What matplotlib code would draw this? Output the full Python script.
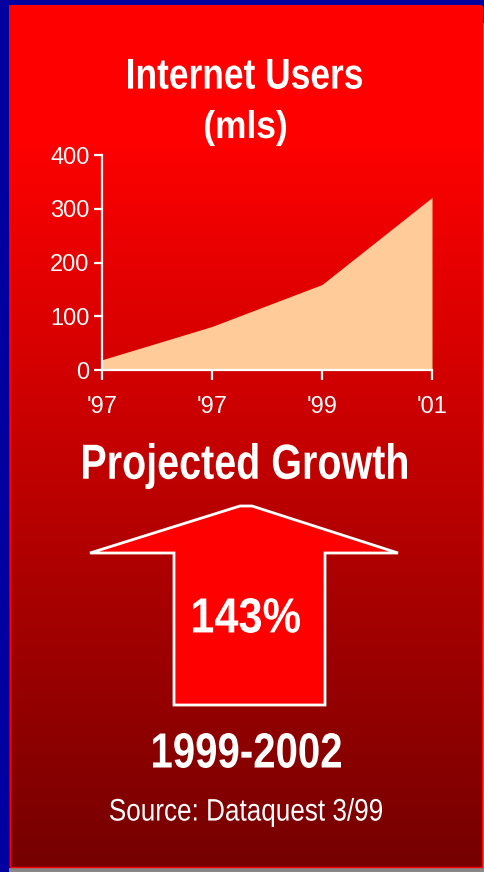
import matplotlib
matplotlib.use('Agg')
import matplotlib.pyplot as plt
import matplotlib.patches as mpatches
from matplotlib.textpath import TextPath
from matplotlib.font_manager import FontProperties
from matplotlib.transforms import Affine2D
import numpy as np

# data
years = ["'97", "'97", "'99", "'01"]
users = [19, 81, 159, 321]
yticks = [0, 100, 200, 300, 400]

REG = ['Liberation Sans', 'DejaVu Sans']

W, H = 485, 872
fig = plt.figure(figsize=(W / 100, H / 100), dpi=100)

# background in pixel coords
bg = fig.add_axes([0, 0, 1, 1])
bg.set_xlim(0, W); bg.set_ylim(H, 0)
bg.axis('off')
bg.add_patch(mpatches.Rectangle((0, 0), W, H, fc='#0000a0', ec='none'))
bg.add_patch(mpatches.Rectangle((0, 868), W, 4, fc='#888888', ec='none', zorder=1))
bg.add_patch(mpatches.Rectangle((482, 23), 3, H, fc='#888888', ec='none', zorder=1))
bg.add_patch(mpatches.Rectangle((0, 6), 9, H, fc='#0000a0', ec='none', zorder=1))

# red gradient
yy = np.linspace(0, 1, 400)
top, bot = 130 / 862, 1.0
t = np.clip((yy - top) / (bot - top), 0, 1)
grad = np.zeros((400, 1, 3))
grad[:, 0, 0] = 1.0 - t * 0.54
bg.imshow(grad, extent=(9, 482, 867, 6), aspect='auto', zorder=2)
bg.add_patch(mpatches.Rectangle((10, 6), 472, 861, fc='none', ec='#ff0000', lw=1, zorder=3))

# arrow
arrow = [(174, 705), (174, 553), (90, 553), (240, 506), (252, 506), (398, 553),
         (325, 553), (325, 705)]
bg.add_patch(mpatches.Polygon(arrow, closed=True, fc='#ff0000', ec='white', lw=2, zorder=4))


def ptext(s, box, bold=False):
    # narrow text: glyph outlines squeezed into the ink box (x0, x1, top, bottom)
    fp = FontProperties(family='Liberation Sans', weight='bold' if bold else 'normal')
    tp = TextPath((0, 0), s, size=100, prop=fp)
    ext = tp.get_extents()
    x0, x1, yt, yb = box
    sx = (x1 - x0) / ext.width
    sy = (yb - yt) / ext.height
    tr = Affine2D().translate(-ext.x0, -ext.y0).scale(sx, -sy).translate(x0, yb)
    bg.add_patch(mpatches.PathPatch(tr.transform_path(tp), fc='white', ec='none', zorder=5))


ptext('Internet Users', (128, 362, 59, 89), bold=True)
ptext('(mls)', (205, 286, 110, 146), bold=True)
ptext('Projected Growth', (83, 407, 443, 489), bold=True)
ptext('143%', (193, 300, 598, 633), bold=True)
ptext('1999-2002', (153, 341, 733, 768), bold=True)
ptext('Source: Dataquest 3/99', (110, 382, 798, 827))

# area chart
x0, x1, y0, y1 = 102, 432, 155, 370
ax = fig.add_axes([x0 / W, 1 - y1 / H, (x1 - x0) / W, (y1 - y0) / H])
ax.patch.set_alpha(0)
xs = np.arange(len(users))
ax.fill_between(xs, 0, users, color='#ffcc99', lw=0)
ax.set_xlim(0, len(users) - 1)
ax.set_ylim(0, 400)
ax.set_xticks(xs)
ax.set_xticklabels(years)
ax.set_yticks(yticks)
for s in ['top', 'right']:
    ax.spines[s].set_visible(False)
for s in ['left', 'bottom']:
    ax.spines[s].set_color('white')
    ax.spines[s].set_linewidth(1.6)
    ax.spines[s].set_clip_on(False)
ax.tick_params(axis='y', colors='white', length=6, width=1.6, labelsize=17, pad=3)
ax.tick_params(axis='x', colors='white', length=7, width=1.6, labelsize=17, pad=12)
for lb in ax.get_xticklabels() + ax.get_yticklabels():
    lb.set_family(REG)

plt.savefig('out.png', dpi=100)
